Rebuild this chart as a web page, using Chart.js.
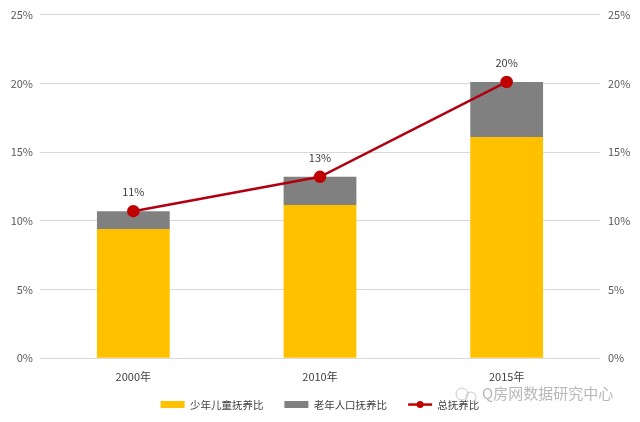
<!DOCTYPE html>
<html><head><meta charset="utf-8">
<script src="https://cdn.jsdelivr.net/npm/chart.js@4/dist/chart.umd.min.js"></script>
<style>html,body{margin:0;padding:0;background:#fff}#wrap{width:640px;height:422px;position:relative}</style>
</head><body><div id="wrap"><canvas id="c" width="640" height="422"></canvas></div>
<script>
const categories = ['2000年', '2010年', '2015年'];
const childRatio = [9.4, 11.15, 16.1];
const elderRatio = [1.3, 2.05, 4.0];
const totalRatio = [10.7, 13.2, 20.1];
const yTicks = [0, 5, 10, 15, 20, 25];
const seriesNames = ['少年儿童抚养比', '老年人口抚养比', '总抚养比'];
const watermark = 'Q房网数据研究中心';

const FONT = "'Microsoft YaHei','Noto Sans CJK SC','DejaVu Sans',sans-serif";

const overlay = {
  id: 'overlay',
  afterLayout(chart) {
    const lg = chart.legend;
    if (lg) {
      const shift = chart.chartArea.bottom + 20 - lg.top;
      lg.top += shift; lg.bottom += shift;
    }
  },
  afterDatasetsDraw(chart) {
    const ctx = chart.ctx;
    const meta = chart.getDatasetMeta(2);
    ctx.save();
    ctx.fillStyle = '#404040';
    ctx.font = '11px ' + FONT;
    ctx.textAlign = 'center';
    ctx.textBaseline = 'middle';
    meta.data.forEach((pt, i) => {
      ctx.fillText(Math.round(totalRatio[i]) + '%', pt.x, pt.y - 19);
    });
    ctx.restore();
  },
  afterDraw(chart) {
    const ctx = chart.ctx;
    const lg = chart.legend;
    if (lg && lg.legendHitBoxes && lg.legendHitBoxes[2]) {
      const hb = lg.legendHitBoxes[2];
      const cy = hb.top + hb.height / 2;
      ctx.save();
      ctx.strokeStyle = '#C00000';
      ctx.lineWidth = 2.5;
      ctx.beginPath();
      ctx.moveTo(hb.left, cy);
      ctx.lineTo(hb.left + 24, cy);
      ctx.stroke();
      ctx.fillStyle = '#C00000';
      ctx.beginPath();
      ctx.arc(hb.left + 12, cy, 3.5, 0, Math.PI * 2);
      ctx.fill();
      ctx.restore();
    }
    ctx.save();
    ctx.fillStyle = '#b8b8b8';
    ctx.font = '15px ' + FONT;
    ctx.textAlign = 'left';
    ctx.textBaseline = 'middle';
    ctx.fillText(watermark, 482, 393);
    ctx.strokeStyle = '#c8c8c8';
    ctx.lineWidth = 1;
    ctx.beginPath(); ctx.arc(462, 394, 6, 0, Math.PI * 2); ctx.stroke();
    ctx.beginPath(); ctx.arc(471, 397, 5, 0, Math.PI * 2); ctx.stroke();
    ctx.restore();
  }
};

new Chart(document.getElementById('c'), {
  data: {
    labels: categories,
    datasets: [
      { type: 'bar', label: seriesNames[0], data: childRatio, backgroundColor: '#FFC000', stack: 's', order: 2, barPercentage: 0.78, categoryPercentage: 0.5 },
      { type: 'bar', label: seriesNames[1], data: elderRatio, backgroundColor: '#808080', stack: 's', order: 2, barPercentage: 0.78, categoryPercentage: 0.5 },
      { type: 'line', label: seriesNames[2], data: totalRatio, borderColor: '#B00012', backgroundColor: '#C00000', borderWidth: 2.5, pointRadius: 5, pointBackgroundColor: '#C00000', pointBorderColor: '#C00000', order: 1, tension: 0 }
    ]
  },
  options: {
    responsive: false,
    animation: false,
    layout: { padding: { top: 8, left: 0, right: 0, bottom: -15 } },
    plugins: {
      tooltip: { enabled: false },
      legend: {
        position: 'bottom',
        labels: {
          boxWidth: 24, boxHeight: 7, padding: 21,
          color: '#404040',
          font: { size: 10.5, family: FONT },
          sort: (a, b) => a.datasetIndex - b.datasetIndex,
          generateLabels(chart) {
            const items = Chart.defaults.plugins.legend.labels.generateLabels(chart);
            items.forEach((it) => {
              it.lineWidth = 0;
              it.strokeStyle = 'transparent';
              if (it.datasetIndex === 2) it.fillStyle = 'transparent';
            });
            return items;
          }
        }
      }
    },
    scales: {
      x: {
        stacked: true,
        grid: { display: false, drawTicks: false },
        border: { display: false },
        ticks: { color: '#404040', font: { size: 11, family: FONT }, padding: 12 }
      },
      y: {
        stacked: true,
        position: 'left',
        min: 0, max: 25,
        afterBuildTicks(s) { s.ticks = yTicks.map(v => ({ value: v })); },
        ticks: { color: '#595959', font: { size: 11, family: FONT }, callback: v => v + '%', padding: 7 },
        grid: { color: '#d9d9d9', lineWidth: 1, drawTicks: false },
        border: { display: false },
        afterFit(s) { s.width = 40; }
      },
      y2: {
        position: 'right',
        min: 0, max: 25,
        afterBuildTicks(s) { s.ticks = yTicks.map(v => ({ value: v })); },
        ticks: { color: '#595959', font: { size: 11, family: FONT }, callback: v => v + '%', padding: 8 },
        grid: { display: false, drawTicks: false },
        border: { display: false },
        afterFit(s) { s.width = 40; }
      }
    }
  },
  plugins: [overlay]
});
</script></body></html>
